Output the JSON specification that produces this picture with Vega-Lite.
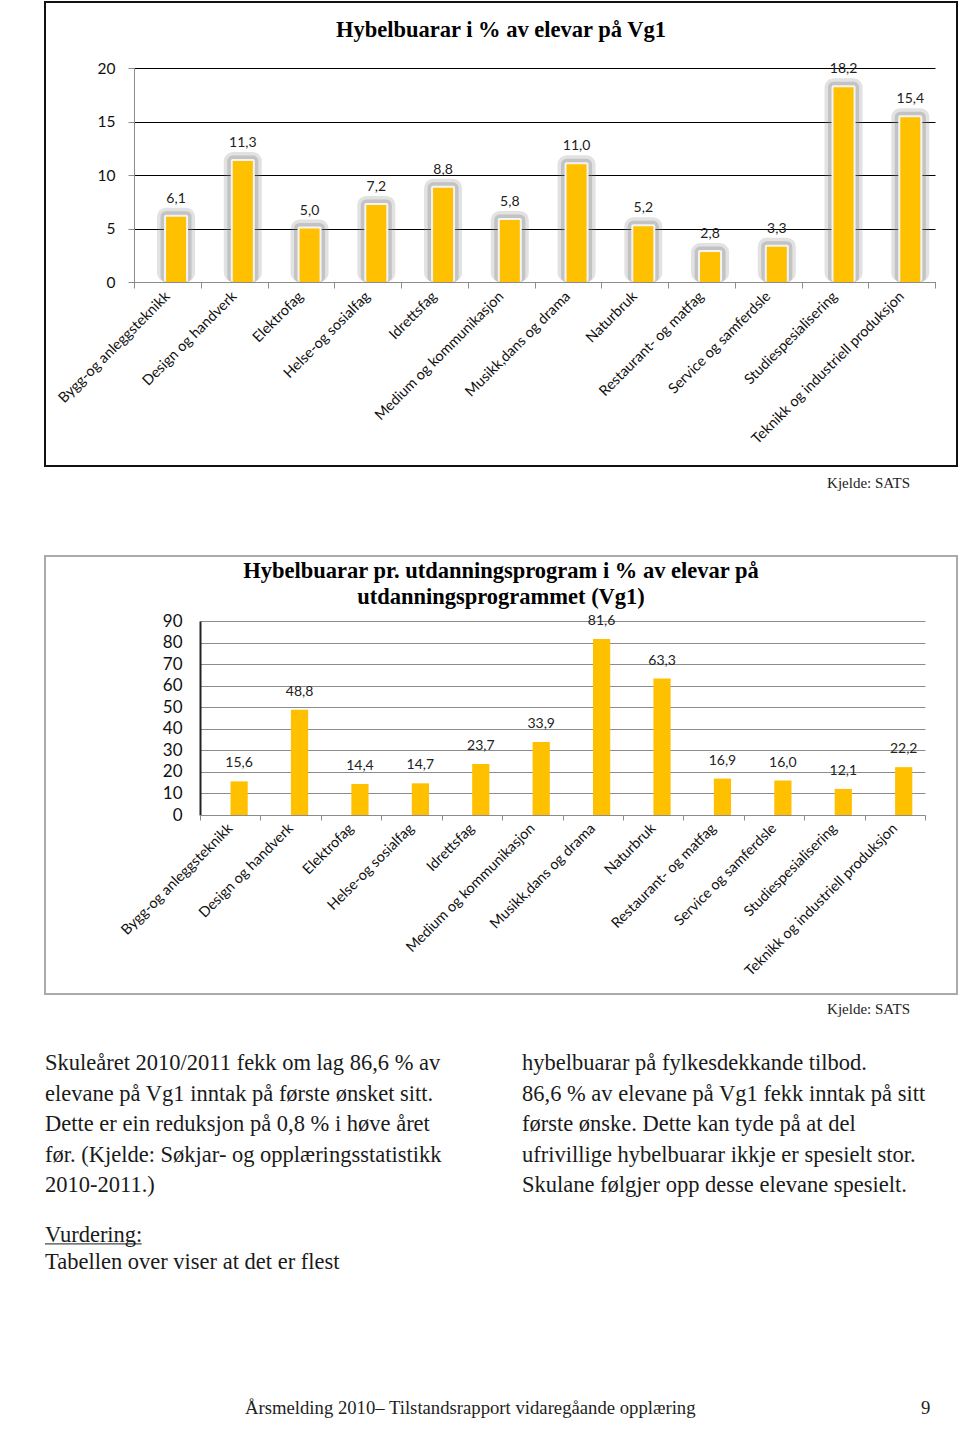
{
  "$schema": "https://vega.github.io/schema/vega-lite/v6.json",
  "padding": {"left": 38, "top": 1, "right": 0, "bottom": 0},
  "autosize": {"type": "pad"},
  "spacing": 0,
  "bounds": "flush",
  "background": "white",
  "config": {
    "view": {"stroke": null},
    "locale": {"number": {"decimal": ",", "thousands": " ", "grouping": [3], "currency": ["", ""]}}
  },
  "datasets": {
    "vg1": [
      {"cat": "Bygg-og anleggsteknikk", "v": 6.1},
      {"cat": "Design og handverk", "v": 11.3},
      {"cat": "Elektrofag", "v": 5.0},
      {"cat": "Helse-og sosialfag", "v": 7.2},
      {"cat": "Idrettsfag", "v": 8.8},
      {"cat": "Medium og kommunikasjon", "v": 5.8},
      {"cat": "Musikk,dans og drama", "v": 11.0},
      {"cat": "Naturbruk", "v": 5.2},
      {"cat": "Restaurant- og matfag", "v": 2.8},
      {"cat": "Service og samferdsle", "v": 3.3},
      {"cat": "Studiespesialisering", "v": 18.2},
      {"cat": "Teknikk og industriell produksjon", "v": 15.4}
    ],
    "prog": [
      {"cat": "Bygg-og anleggsteknikk", "v": 15.6},
      {"cat": "Design og handverk", "v": 48.8},
      {"cat": "Elektrofag", "v": 14.4},
      {"cat": "Helse-og sosialfag", "v": 14.7},
      {"cat": "Idrettsfag", "v": 23.7},
      {"cat": "Medium og kommunikasjon", "v": 33.9},
      {"cat": "Musikk,dans og drama", "v": 81.6},
      {"cat": "Naturbruk", "v": 63.3},
      {"cat": "Restaurant- og matfag", "v": 16.9},
      {"cat": "Service og samferdsle", "v": 16.0},
      {"cat": "Studiespesialisering", "v": 12.1},
      {"cat": "Teknikk og industriell produksjon", "v": 22.2}
    ],
    "source": [{"text": "Kjelde: SATS", "line": 0}],
    "para": [
      {"col": 0, "line": 0, "text": "Skuleåret 2010/2011 fekk om lag 86,6 % av"},
      {"col": 0, "line": 1, "text": "elevane på Vg1 inntak på første ønsket sitt."},
      {"col": 0, "line": 2, "text": "Dette er ein reduksjon på 0,8 % i høve året"},
      {"col": 0, "line": 3, "text": "før. (Kjelde: Søkjar- og opplæringsstatistikk"},
      {"col": 0, "line": 4, "text": "2010-2011.)"},
      {"col": 1, "line": 0, "text": "hybelbuarar på fylkesdekkande tilbod."},
      {"col": 1, "line": 1, "text": "86,6 % av elevane på Vg1 fekk inntak på sitt"},
      {"col": 1, "line": 2, "text": "første ønske. Dette kan tyde på at del"},
      {"col": 1, "line": 3, "text": "ufrivillige hybelbuarar ikkje er spesielt stor."},
      {"col": 1, "line": 4, "text": "Skulane følgjer opp desse elevane spesielt."}
    ],
    "vurd": [
      {"line": 0, "text": "Vurdering:"},
      {"line": 1, "text": "Tabellen over viser at det er flest"}
    ],
    "footer": [
      {"col": 0, "line": 0, "text": "Årsmelding 2010– Tilstandsrapport vidaregåande opplæring"},
      {"col": 1, "line": 0, "text": "9"}
    ]
  },
  "vconcat": [
    {
      "width": 912,
      "height": 464,
      "view": {"stroke": "#111", "strokeWidth": 2},
      "title": {"text": "Hybelbuarar i % av elevar på Vg1", "font": "Liberation Serif", "fontSize": 22.5, "fontWeight": "bold", "color": "#000", "anchor": "middle", "baseline": "top", "offset": -39, "frame": "group"},
      "data": {"name": "vg1"},
      "encoding": {
        "x": {
          "field": "cat", "type": "nominal", "sort": null, "bandPosition": 0.48,
          "scale": {"range": [89, 890], "paddingInner": 0, "paddingOuter": 0},
          "axis": {"title": null, "tickBand": "extent", "domainColor": "#8c8c8c", "tickColor": "#8c8c8c", "tickSize": 6, "labelAngle": -45, "labelAlign": "right", "labelBaseline": "middle", "labelFont": "Lato", "labelFontSize": 14.5, "labelColor": "#111", "labelPadding": 6, "labelLimit": 400, "labelOverlap": false, "offset": -184, "grid": false}
        },
        "y": {
          "field": "v", "type": "quantitative",
          "scale": {"domain": [0, 20], "range": [280, 66], "nice": false, "zero": true},
          "axis": {"title": null, "values": [0, 5, 10, 15, 20], "grid": true, "gridColor": "#000", "gridWidth": 1, "gridOpacity": 1, "domainColor": "#8c8c8c", "tickColor": "#8c8c8c", "tickSize": 6, "labelFont": "Lato", "labelFontSize": 15.5, "labelColor": "#111", "labelPadding": 13, "offset": -89}
        }
      },
      "layer": [
        {
          "mark": {"type": "rect", "fill": "#FFC000", "stroke": "#7a7a7a", "strokeWidth": 18, "strokeOpacity": 0.22, "strokeJoin": "round"},
          "encoding": {
            "x2": {"field": "cat", "bandPosition": 0.78},
            "y2": {"datum": 0.85}
          }
        },
        {
          "mark": {"type": "rect", "fill": "#FFC000", "stroke": "#7a7a7a", "strokeWidth": 11, "strokeOpacity": 0.3, "strokeJoin": "round"},
          "encoding": {
            "x2": {"field": "cat", "bandPosition": 0.78},
            "y2": {"datum": 0.5}
          }
        },
        {
          "mark": {"type": "rect", "fill": "#FFC000", "stroke": "#f4f4f4", "strokeWidth": 4, "strokeJoin": "round"},
          "encoding": {
            "x2": {"field": "cat", "bandPosition": 0.78},
            "y2": {"datum": 0.2}
          }
        },
        {
          "mark": {"type": "rect", "fill": "#FFC000"},
          "encoding": {
            "x2": {"field": "cat", "bandPosition": 0.78},
            "y2": {"datum": 0}
          }
        },
        {
          "mark": {"type": "text", "font": "Lato", "fontSize": 14, "color": "#222", "align": "center", "baseline": "middle", "dx": 10, "dy": -18},
          "encoding": {
            "text": {"field": "v", "type": "quantitative", "format": ".1f"}
          }
        }
      ]
    },
    {
      "width": 912,
      "height": 90,
      "data": {"name": "source"},
      "mark": {"type": "text", "font": "Liberation Serif", "fontSize": 15, "color": "#222", "align": "right", "baseline": "middle"},
      "encoding": {
        "x": {"datum": 1, "type": "quantitative", "scale": {"domain": [0, 1], "range": [0, 865]}, "axis": null},
        "y": {"field": "line", "type": "quantitative", "scale": {"domain": [0, 1], "range": [17, 40]}, "axis": null},
        "text": {"field": "text"}
      }
    },
    {
      "width": 912,
      "height": 438,
      "view": {"stroke": "#aaaaaa", "strokeWidth": 2},
      "title": {"text": ["Hybelbuarar pr. utdanningsprogram i % av elevar på", "utdanningsprogrammet  (Vg1)"], "font": "Liberation Serif", "fontSize": 22.5, "lineHeight": 26, "fontWeight": "bold", "color": "#000", "anchor": "middle", "baseline": "top", "offset": -52, "frame": "group"},
      "data": {"name": "prog"},
      "encoding": {
        "x": {
          "field": "cat", "type": "nominal", "sort": null, "bandPosition": 0.505,
          "scale": {"range": [155, 880], "paddingInner": 0, "paddingOuter": 0},
          "axis": {"title": null, "tickBand": "extent", "domainColor": "#8c8c8c", "tickColor": "#8c8c8c", "tickSize": 5, "labelAngle": -45, "labelAlign": "right", "labelBaseline": "middle", "labelFont": "Lato", "labelFontSize": 14.5, "labelColor": "#111", "labelPadding": 6, "labelLimit": 400, "labelOverlap": false, "offset": -179, "grid": false}
        },
        "y": {
          "field": "v", "type": "quantitative",
          "scale": {"domain": [0, 90], "range": [259, 65], "nice": false, "zero": true},
          "axis": {"title": null, "values": [0, 10, 20, 30, 40, 50, 60, 70, 80, 90], "grid": true, "gridColor": "#8c8c8c", "gridWidth": 1, "gridOpacity": 1, "domainColor": "#222", "domainWidth": 2, "ticks": false, "labelFont": "Lato", "labelFontSize": 17, "labelColor": "#111", "labelPadding": 18, "offset": -155}
        }
      },
      "layer": [
        {
          "mark": {"type": "rect", "fill": "#FFC000"},
          "encoding": {
            "x2": {"field": "cat", "bandPosition": 0.79},
            "y2": {"datum": 0}
          }
        },
        {
          "mark": {"type": "text", "font": "Lato", "fontSize": 14, "color": "#222", "align": "center", "baseline": "middle", "dx": 8.6, "dy": -18},
          "encoding": {
            "text": {"field": "v", "type": "quantitative", "format": ".1f"}
          }
        }
      ]
    },
    {
      "width": 912,
      "height": 40,
      "data": {"name": "source"},
      "mark": {"type": "text", "font": "Liberation Serif", "fontSize": 15, "color": "#222", "align": "right", "baseline": "middle"},
      "encoding": {
        "x": {"datum": 1, "type": "quantitative", "scale": {"domain": [0, 1], "range": [0, 865]}, "axis": null},
        "y": {"field": "line", "type": "quantitative", "scale": {"domain": [0, 1], "range": [15, 35]}, "axis": null},
        "text": {"field": "text"}
      }
    },
    {
      "width": 912,
      "height": 170,
      "data": {"name": "para"},
      "mark": {"type": "text", "font": "Liberation Serif", "fontSize": 22.5, "color": "#1a1a1a", "align": "left", "baseline": "middle"},
      "encoding": {
        "x": {"field": "col", "type": "quantitative", "scale": {"domain": [0, 1], "range": [0, 477]}, "axis": null},
        "y": {"field": "line", "type": "quantitative", "scale": {"domain": [0, 4], "range": [29, 151]}, "axis": null},
        "text": {"field": "text"}
      }
    },
    {
      "width": 912,
      "height": 100,
      "layer": [
        {
          "data": {"name": "vurd"},
          "mark": {"type": "text", "font": "Liberation Serif", "fontSize": 22.5, "color": "#1a1a1a", "align": "left", "baseline": "middle"},
          "encoding": {
            "x": {"datum": 0, "type": "quantitative", "scale": {"domain": [0, 1], "range": [0, 912]}, "axis": null},
            "y": {"field": "line", "type": "quantitative", "scale": {"domain": [0, 1], "range": [31, 58]}, "axis": null},
            "text": {"field": "text"}
          }
        },
        {
          "data": {"values": [{}]},
          "mark": {"type": "rule", "color": "#1a1a1a", "strokeWidth": 1},
          "encoding": {
            "x": {"datum": 0, "type": "quantitative"},
            "x2": {"datum": 0.106},
            "y": {"datum": 0.33, "type": "quantitative"}
          }
        }
      ]
    },
    {
      "width": 912,
      "height": 120,
      "data": {"name": "footer"},
      "mark": {"type": "text", "font": "Liberation Serif", "fontSize": 18.7, "color": "#222", "align": "left", "baseline": "middle"},
      "encoding": {
        "x": {"field": "col", "type": "quantitative", "scale": {"domain": [0, 1], "range": [200, 876]}, "axis": null},
        "y": {"field": "line", "type": "quantitative", "scale": {"domain": [0, 1], "range": [104, 124]}, "axis": null},
        "text": {"field": "text"}
      }
    }
  ]
}
